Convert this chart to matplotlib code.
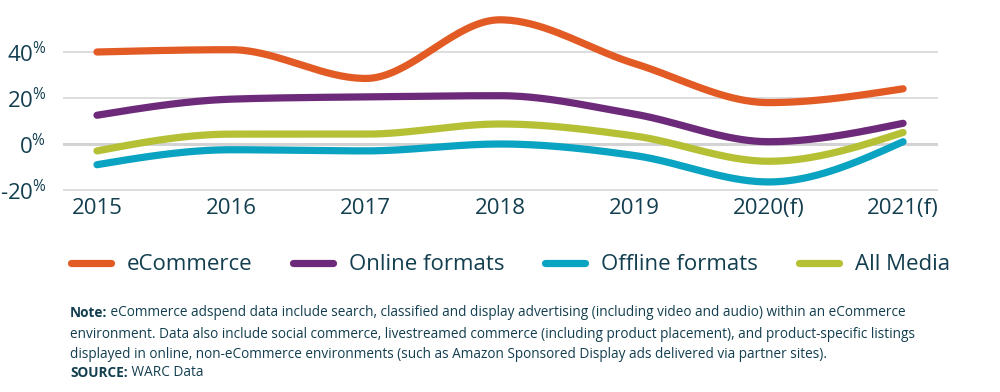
import numpy as np
import matplotlib
matplotlib.use('Agg')
import matplotlib.pyplot as plt

plt.rcParams['font.family'] = ['Open Sans', 'DejaVu Sans']
plt.rcParams['mathtext.fontset'] = 'custom'
plt.rcParams['mathtext.rm'] = 'Open Sans'

years = ['2015', '2016', '2017', '2018', '2019', '2020(f)', '2021(f)']
ecommerce = [40, 41, 28.5, 54, 35, 18, 24]
online = [12.5, 19.5, 20.5, 21, 13, 1, 9]
offline = [-9, -2.5, -3, 0, -5, -16.5, 1]
all_media = [-3, 4.3, 4.3, 8.7, 3.5, -7.5, 5]

names = ['eCommerce', 'Online formats', 'Offline formats', 'All Media']
colors = ['#E35B24', '#6E2A7A', '#0AA3C2', '#B5C035']
ink = '#123E4F'


def monotone(xs, ys, n=40):
    # monotone cubic (Steffen) like d3.curveMonotoneX
    xs = np.asarray(xs, float)
    ys = np.asarray(ys, float)
    h = np.diff(xs)
    s = np.diff(ys) / h
    t = np.zeros(len(xs))
    for i in range(1, len(xs) - 1):
        p = (s[i - 1] * h[i] + s[i] * h[i - 1]) / (h[i - 1] + h[i])
        t[i] = (np.sign(s[i - 1]) + np.sign(s[i])) * min(abs(s[i - 1]), abs(s[i]), 0.5 * abs(p))
    t[0] = (3 * s[0] - t[1]) / 2
    t[-1] = (3 * s[-1] - t[-2]) / 2
    px, py = [], []
    for i in range(len(xs) - 1):
        u = np.linspace(0, 1, n)
        h00 = 2 * u**3 - 3 * u**2 + 1
        h10 = u**3 - 2 * u**2 + u
        h01 = -2 * u**3 + 3 * u**2
        h11 = u**3 - u**2
        px.extend(xs[i] + u * h[i])
        py.extend(h00 * ys[i] + h10 * h[i] * t[i] + h01 * ys[i + 1] + h11 * h[i] * t[i + 1])
    return px, py


fig = plt.figure(figsize=(10, 3.92), dpi=100)
ax = fig.add_axes([0.063, 1 - 192.3 / 392, 0.875, (192.3 - 6) / 392])
x = np.arange(len(years))
ax.set_xlim(-0.253, 6.26)
ax.set_ylim(-21, 60)

for v in [-20, 20, 40]:
    ax.axhline(v, color='#DADADA', lw=1.3, zorder=0)
ax.axhline(0, color='#D3D3D3', lw=2.2, zorder=0)

series = [ecommerce, online, offline, all_media]
order = [3, 2, 1, 0]
for i in order:
    sx, sy = monotone(x, series[i])
    ax.plot(sx, sy, color=colors[i], lw=5.2, solid_capstyle='round', label=names[i], zorder=3)

for sp in ax.spines.values():
    sp.set_visible(False)
ax.set_xticks(x)
ax.set_xticklabels(years, fontsize=16, color=ink)
ax.set_yticks([-20, 0, 20, 40])
ax.set_yticklabels([r'%d$^{\mathregular{\%%}}$' % v for v in [-20, 0, 20, 40]], fontsize=16, color=ink)
ax.tick_params(length=0)
ax.tick_params(axis='y', pad=12)
ax.tick_params(axis='x', pad=4)

handles, labels = ax.get_legend_handles_labels()
hmap = dict(zip(labels, handles))
fig.legend([hmap[n] for n in names], names, loc='center left',
           bbox_to_anchor=(0.071, 1 - 265 / 392), ncol=4, frameon=False,
           fontsize=16, labelcolor=ink, handlelength=1.8, handletextpad=0.7,
           columnspacing=1.85, borderpad=0, borderaxespad=0)

note_lines = [
    ('Note:', ' eCommerce adspend data include search, classified and display advertising (including video and audio) within an eCommerce'),
    ('', 'environment. Data also include social commerce, livestreamed commerce (including product placement), and product-specific listings'),
    ('', 'displayed in online, non-eCommerce environments (such as Amazon Sponsored Display ads delivered via partner sites).'),
    ('SOURCE:', ' WARC Data'),
]
ys_px = [317, 338, 358, 377]
fs = 9.8
for (b, rest), yp in zip(note_lines, ys_px):
    yf = 1 - yp / 392
    if b:
        t = fig.text(0.07, yf, b, fontsize=fs, fontweight='bold', color=ink, va='baseline')
        ax.annotate(rest, xy=(1, 0), xycoords=t, va='bottom', ha='left',
                    fontsize=fs, color=ink, annotation_clip=False)
    else:
        fig.text(0.07, yf, rest, fontsize=fs, color=ink, va='baseline')

fig.savefig('out.png', dpi=100, facecolor='white')
